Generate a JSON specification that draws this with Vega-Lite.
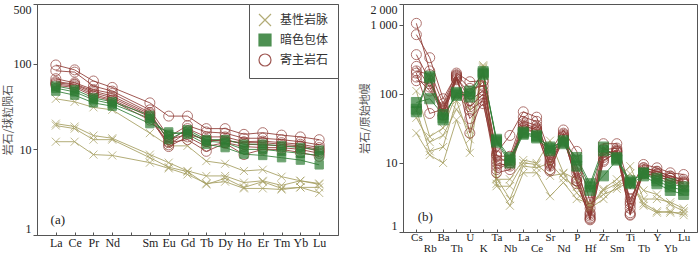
{
"$schema": "https://vega.github.io/schema/vega-lite/v6.json",
"padding": {"left": 1, "top": 2, "right": 2, "bottom": 0},
"background": "white",
"spacing": 19,
"config": {
  "view": {"stroke": "#555", "strokeWidth": 1},
  "font": "Liberation Serif",
  "axis": {"labelFont": "Liberation Serif", "labelFontSize": 12, "labelColor": "#222", "domainColor": "#555", "tickColor": "#555", "titleFont": "Noto Sans CJK SC", "titleFontSize": 11, "titleFontWeight": "normal", "titleColor": "#555", "grid": false},
  "legend": {"orient": "top-right", "offset": 0, "strokeColor": "#555", "fillColor": "white", "padding": 9, "labelFont": "Noto Sans CJK SC", "labelFontSize": 12, "labelColor": "#333", "symbolSize": 144, "symbolStrokeWidth": 1.2, "rowPadding": 2, "labelOffset": 8}
},
"resolve": {"scale": {"shape": "independent", "stroke": "independent", "fill": "independent"}, "legend": {"shape": "independent", "stroke": "independent", "fill": "independent"}},
"datasets": {
"ree": [
{"g":"基性岩脉","s":"x1","e":"La","v":39},{"g":"基性岩脉","s":"x1","e":"Ce","v":36},{"g":"基性岩脉","s":"x1","e":"Pr","v":31},{"g":"基性岩脉","s":"x1","e":"Nd","v":29},{"g":"基性岩脉","s":"x1","e":"Sm","v":15.5},{"g":"基性岩脉","s":"x1","e":"Eu","v":11},{"g":"基性岩脉","s":"x1","e":"Gd","v":11},{"g":"基性岩脉","s":"x1","e":"Tb","v":7.3},{"g":"基性岩脉","s":"x1","e":"Dy","v":6.8},{"g":"基性岩脉","s":"x1","e":"Ho","v":5.6},{"g":"基性岩脉","s":"x1","e":"Er","v":5.8},{"g":"基性岩脉","s":"x1","e":"Tm","v":4.8},{"g":"基性岩脉","s":"x1","e":"Yb","v":4.3},{"g":"基性岩脉","s":"x1","e":"Lu","v":3.9},
{"g":"基性岩脉","s":"x2","e":"La","v":20},{"g":"基性岩脉","s":"x2","e":"Ce","v":18.5},{"g":"基性岩脉","s":"x2","e":"Pr","v":14.5},{"g":"基性岩脉","s":"x2","e":"Nd","v":13.5},{"g":"基性岩脉","s":"x2","e":"Sm","v":8.7},{"g":"基性岩脉","s":"x2","e":"Eu","v":7},{"g":"基性岩脉","s":"x2","e":"Gd","v":5.6},{"g":"基性岩脉","s":"x2","e":"Tb","v":4.9},{"g":"基性岩脉","s":"x2","e":"Dy","v":4.9},{"g":"基性岩脉","s":"x2","e":"Ho","v":4.1},{"g":"基性岩脉","s":"x2","e":"Er","v":4.3},{"g":"基性岩脉","s":"x2","e":"Tm","v":3.8},{"g":"基性岩脉","s":"x2","e":"Yb","v":4.3},{"g":"基性岩脉","s":"x2","e":"Lu","v":4.0},
{"g":"基性岩脉","s":"x3","e":"La","v":19},{"g":"基性岩脉","s":"x3","e":"Ce","v":17.5},{"g":"基性岩脉","s":"x3","e":"Pr","v":13},{"g":"基性岩脉","s":"x3","e":"Nd","v":13},{"g":"基性岩脉","s":"x3","e":"Sm","v":8},{"g":"基性岩脉","s":"x3","e":"Eu","v":6.2},{"g":"基性岩脉","s":"x3","e":"Gd","v":5.5},{"g":"基性岩脉","s":"x3","e":"Tb","v":3.9},{"g":"基性岩脉","s":"x3","e":"Dy","v":4.6},{"g":"基性岩脉","s":"x3","e":"Ho","v":3.6},{"g":"基性岩脉","s":"x3","e":"Er","v":4.2},{"g":"基性岩脉","s":"x3","e":"Tm","v":3.5},{"g":"基性岩脉","s":"x3","e":"Yb","v":3.6},{"g":"基性岩脉","s":"x3","e":"Lu","v":3.6},
{"g":"基性岩脉","s":"x4","e":"La","v":12.3},{"g":"基性岩脉","s":"x4","e":"Ce","v":12.3},{"g":"基性岩脉","s":"x4","e":"Pr","v":8.7},{"g":"基性岩脉","s":"x4","e":"Nd","v":8.5},{"g":"基性岩脉","s":"x4","e":"Sm","v":7},{"g":"基性岩脉","s":"x4","e":"Eu","v":6},{"g":"基性岩脉","s":"x4","e":"Gd","v":5.1},{"g":"基性岩脉","s":"x4","e":"Tb","v":4.0},{"g":"基性岩脉","s":"x4","e":"Dy","v":4.2},{"g":"基性岩脉","s":"x4","e":"Ho","v":3.5},{"g":"基性岩脉","s":"x4","e":"Er","v":3.5},{"g":"基性岩脉","s":"x4","e":"Tm","v":3.4},{"g":"基性岩脉","s":"x4","e":"Yb","v":3.6},{"g":"基性岩脉","s":"x4","e":"Lu","v":3.1},
{"g":"寄主岩石","s":"c1","e":"La","v":97},{"g":"寄主岩石","s":"c1","e":"Ce","v":85},{"g":"寄主岩石","s":"c1","e":"Pr","v":63},{"g":"寄主岩石","s":"c1","e":"Nd","v":53},{"g":"寄主岩石","s":"c1","e":"Sm","v":35},{"g":"寄主岩石","s":"c1","e":"Eu","v":24.5},{"g":"寄主岩石","s":"c1","e":"Gd","v":24.5},{"g":"寄主岩石","s":"c1","e":"Tb","v":17.5},{"g":"寄主岩石","s":"c1","e":"Dy","v":17.5},{"g":"寄主岩石","s":"c1","e":"Ho","v":15},{"g":"寄主岩石","s":"c1","e":"Er","v":15.7},{"g":"寄主岩石","s":"c1","e":"Tm","v":14.7},{"g":"寄主岩石","s":"c1","e":"Yb","v":14},{"g":"寄主岩石","s":"c1","e":"Lu","v":13},
{"g":"寄主岩石","s":"c2","e":"La","v":83},{"g":"寄主岩石","s":"c2","e":"Ce","v":80},{"g":"寄主岩石","s":"c2","e":"Pr","v":55},{"g":"寄主岩石","s":"c2","e":"Nd","v":48},{"g":"寄主岩石","s":"c2","e":"Sm","v":29},{"g":"寄主岩石","s":"c2","e":"Eu","v":14},{"g":"寄主岩石","s":"c2","e":"Gd","v":19},{"g":"寄主岩石","s":"c2","e":"Tb","v":16},{"g":"寄主岩石","s":"c2","e":"Dy","v":15.5},{"g":"寄主岩石","s":"c2","e":"Ho","v":13.5},{"g":"寄主岩石","s":"c2","e":"Er","v":13.5},{"g":"寄主岩石","s":"c2","e":"Tm","v":13},{"g":"寄主岩石","s":"c2","e":"Yb","v":12.3},{"g":"寄主岩石","s":"c2","e":"Lu","v":11.3},
{"g":"寄主岩石","s":"c3","e":"La","v":67},{"g":"寄主岩石","s":"c3","e":"Ce","v":60},{"g":"寄主岩石","s":"c3","e":"Pr","v":50},{"g":"寄主岩石","s":"c3","e":"Nd","v":45},{"g":"寄主岩石","s":"c3","e":"Sm","v":27},{"g":"寄主岩石","s":"c3","e":"Eu","v":12.3},{"g":"寄主岩石","s":"c3","e":"Gd","v":17.5},{"g":"寄主岩石","s":"c3","e":"Tb","v":14},{"g":"寄主岩石","s":"c3","e":"Dy","v":14},{"g":"寄主岩石","s":"c3","e":"Ho","v":12.3},{"g":"寄主岩石","s":"c3","e":"Er","v":12.5},{"g":"寄主岩石","s":"c3","e":"Tm","v":12},{"g":"寄主岩石","s":"c3","e":"Yb","v":11.5},{"g":"寄主岩石","s":"c3","e":"Lu","v":10.5},
{"g":"寄主岩石","s":"c4","e":"La","v":60},{"g":"寄主岩石","s":"c4","e":"Ce","v":57},{"g":"寄主岩石","s":"c4","e":"Pr","v":46},{"g":"寄主岩石","s":"c4","e":"Nd","v":40},{"g":"寄主岩石","s":"c4","e":"Sm","v":25},{"g":"寄主岩石","s":"c4","e":"Eu","v":11.3},{"g":"寄主岩石","s":"c4","e":"Gd","v":16},{"g":"寄主岩石","s":"c4","e":"Tb","v":12.5},{"g":"寄主岩石","s":"c4","e":"Dy","v":13},{"g":"寄主岩石","s":"c4","e":"Ho","v":11.5},{"g":"寄主岩石","s":"c4","e":"Er","v":11.3},{"g":"寄主岩石","s":"c4","e":"Tm","v":11},{"g":"寄主岩石","s":"c4","e":"Yb","v":10.8},{"g":"寄主岩石","s":"c4","e":"Lu","v":9.5},
{"g":"寄主岩石","s":"c5","e":"La","v":58},{"g":"寄主岩石","s":"c5","e":"Ce","v":55},{"g":"寄主岩石","s":"c5","e":"Pr","v":44},{"g":"寄主岩石","s":"c5","e":"Nd","v":38},{"g":"寄主岩石","s":"c5","e":"Sm","v":24},{"g":"寄主岩石","s":"c5","e":"Eu","v":10.8},{"g":"寄主岩石","s":"c5","e":"Gd","v":14},{"g":"寄主岩石","s":"c5","e":"Tb","v":10.8},{"g":"寄主岩石","s":"c5","e":"Dy","v":12},{"g":"寄主岩石","s":"c5","e":"Ho","v":10.8},{"g":"寄主岩石","s":"c5","e":"Er","v":10.5},{"g":"寄主岩石","s":"c5","e":"Tm","v":10.5},{"g":"寄主岩石","s":"c5","e":"Yb","v":10},{"g":"寄主岩石","s":"c5","e":"Lu","v":9},
{"g":"寄主岩石","s":"c6","e":"La","v":56},{"g":"寄主岩石","s":"c6","e":"Ce","v":53},{"g":"寄主岩石","s":"c6","e":"Pr","v":42},{"g":"寄主岩石","s":"c6","e":"Nd","v":37},{"g":"寄主岩石","s":"c6","e":"Sm","v":22},{"g":"寄主岩石","s":"c6","e":"Eu","v":12},{"g":"寄主岩石","s":"c6","e":"Gd","v":13},{"g":"寄主岩石","s":"c6","e":"Tb","v":9.5},{"g":"寄主岩石","s":"c6","e":"Dy","v":11.8},{"g":"寄主岩石","s":"c6","e":"Ho","v":8.7},{"g":"寄主岩石","s":"c6","e":"Er","v":10},{"g":"寄主岩石","s":"c6","e":"Tm","v":10},{"g":"寄主岩石","s":"c6","e":"Yb","v":9.2},{"g":"寄主岩石","s":"c6","e":"Lu","v":8.3},
{"g":"寄主岩石","s":"c7","e":"La","v":62},{"g":"寄主岩石","s":"c7","e":"Ce","v":58},{"g":"寄主岩石","s":"c7","e":"Pr","v":48},{"g":"寄主岩石","s":"c7","e":"Nd","v":42},{"g":"寄主岩石","s":"c7","e":"Sm","v":26},{"g":"寄主岩石","s":"c7","e":"Eu","v":13},{"g":"寄主岩石","s":"c7","e":"Gd","v":15},{"g":"寄主岩石","s":"c7","e":"Tb","v":13},{"g":"寄主岩石","s":"c7","e":"Dy","v":12.5},{"g":"寄主岩石","s":"c7","e":"Ho","v":12},{"g":"寄主岩石","s":"c7","e":"Er","v":12},{"g":"寄主岩石","s":"c7","e":"Tm","v":11.5},{"g":"寄主岩石","s":"c7","e":"Yb","v":11},{"g":"寄主岩石","s":"c7","e":"Lu","v":10},
{"g":"暗色包体","s":"g1","e":"La","v":48},{"g":"暗色包体","s":"g1","e":"Ce","v":43},{"g":"暗色包体","s":"g1","e":"Pr","v":35},{"g":"暗色包体","s":"g1","e":"Nd","v":32},{"g":"暗色包体","s":"g1","e":"Sm","v":20},{"g":"暗色包体","s":"g1","e":"Eu","v":16},{"g":"暗色包体","s":"g1","e":"Gd","v":15},{"g":"暗色包体","s":"g1","e":"Tb","v":11.5},{"g":"暗色包体","s":"g1","e":"Dy","v":10.5},{"g":"暗色包体","s":"g1","e":"Ho","v":8.8},{"g":"暗色包体","s":"g1","e":"Er","v":8.5},{"g":"暗色包体","s":"g1","e":"Tm","v":8},{"g":"暗色包体","s":"g1","e":"Yb","v":7.5},{"g":"暗色包体","s":"g1","e":"Lu","v":6.6},
{"g":"暗色包体","s":"g2","e":"La","v":52},{"g":"暗色包体","s":"g2","e":"Ce","v":47},{"g":"暗色包体","s":"g2","e":"Pr","v":38},{"g":"暗色包体","s":"g2","e":"Nd","v":34},{"g":"暗色包体","s":"g2","e":"Sm","v":23},{"g":"暗色包体","s":"g2","e":"Eu","v":15},{"g":"暗色包体","s":"g2","e":"Gd","v":16},{"g":"暗色包体","s":"g2","e":"Tb","v":12.5},{"g":"暗色包体","s":"g2","e":"Dy","v":12},{"g":"暗色包体","s":"g2","e":"Ho","v":10},{"g":"暗色包体","s":"g2","e":"Er","v":10},{"g":"暗色包体","s":"g2","e":"Tm","v":9.5},{"g":"暗色包体","s":"g2","e":"Yb","v":9},{"g":"暗色包体","s":"g2","e":"Lu","v":8.5},
{"g":"暗色包体","s":"g3","e":"La","v":55},{"g":"暗色包体","s":"g3","e":"Ce","v":50},{"g":"暗色包体","s":"g3","e":"Pr","v":40},{"g":"暗色包体","s":"g3","e":"Nd","v":36},{"g":"暗色包体","s":"g3","e":"Sm","v":25},{"g":"暗色包体","s":"g3","e":"Eu","v":13},{"g":"暗色包体","s":"g3","e":"Gd","v":17},{"g":"暗色包体","s":"g3","e":"Tb","v":13},{"g":"暗色包体","s":"g3","e":"Dy","v":13},{"g":"暗色包体","s":"g3","e":"Ho","v":11.5},{"g":"暗色包体","s":"g3","e":"Er","v":11.5},{"g":"暗色包体","s":"g3","e":"Tm","v":11},{"g":"暗色包体","s":"g3","e":"Yb","v":10.5},{"g":"暗色包体","s":"g3","e":"Lu","v":9.8}
],
"spider": [
{"g":"基性岩脉","s":"x1","e":"Cs","v":110},{"g":"基性岩脉","s":"x1","e":"Rb","v":24},{"g":"基性岩脉","s":"x1","e":"Ba","v":32},{"g":"基性岩脉","s":"x1","e":"Th","v":100},{"g":"基性岩脉","s":"x1","e":"U","v":58},{"g":"基性岩脉","s":"x1","e":"K","v":260},{"g":"基性岩脉","s":"x1","e":"Ta","v":5.8},{"g":"基性岩脉","s":"x1","e":"Nb","v":5.8},{"g":"基性岩脉","s":"x1","e":"La","v":11},{"g":"基性岩脉","s":"x1","e":"Ce","v":10},{"g":"基性岩脉","s":"x1","e":"Sr","v":21},{"g":"基性岩脉","s":"x1","e":"Nd","v":7.2},{"g":"基性岩脉","s":"x1","e":"P","v":5.8},{"g":"基性岩脉","s":"x1","e":"Hf","v":2.4},{"g":"基性岩脉","s":"x1","e":"Zr","v":4.2},{"g":"基性岩脉","s":"x1","e":"Sm","v":5.8},{"g":"基性岩脉","s":"x1","e":"Ti","v":9},{"g":"基性岩脉","s":"x1","e":"Tb","v":3.0},{"g":"基性岩脉","s":"x1","e":"Y","v":3.0},{"g":"基性岩脉","s":"x1","e":"Yb","v":2.7},{"g":"基性岩脉","s":"x1","e":"Lu","v":2.2},
{"g":"基性岩脉","s":"x2","e":"Cs","v":58},{"g":"基性岩脉","s":"x2","e":"Rb","v":14.7},{"g":"基性岩脉","s":"x2","e":"Ba","v":17},{"g":"基性岩脉","s":"x2","e":"Th","v":80},{"g":"基性岩脉","s":"x2","e":"U","v":22},{"g":"基性岩脉","s":"x2","e":"K","v":250},{"g":"基性岩脉","s":"x2","e":"Ta","v":4.6},{"g":"基性岩脉","s":"x2","e":"Nb","v":4.6},{"g":"基性岩脉","s":"x2","e":"La","v":10},{"g":"基性岩脉","s":"x2","e":"Ce","v":9.5},{"g":"基性岩脉","s":"x2","e":"Sr","v":6.5},{"g":"基性岩脉","s":"x2","e":"Nd","v":7},{"g":"基性岩脉","s":"x2","e":"P","v":3.7},{"g":"基性岩脉","s":"x2","e":"Hf","v":2.2},{"g":"基性岩脉","s":"x2","e":"Zr","v":3.0},{"g":"基性岩脉","s":"x2","e":"Sm","v":4.6},{"g":"基性岩脉","s":"x2","e":"Ti","v":5.8},{"g":"基性岩脉","s":"x2","e":"Tb","v":2.6},{"g":"基性岩脉","s":"x2","e":"Y","v":2.0},{"g":"基性岩脉","s":"x2","e":"Yb","v":1.9},{"g":"基性岩脉","s":"x2","e":"Lu","v":1.9},
{"g":"基性岩脉","s":"x3","e":"Cs","v":27},{"g":"基性岩脉","s":"x3","e":"Rb","v":13},{"g":"基性岩脉","s":"x3","e":"Ba","v":10},{"g":"基性岩脉","s":"x3","e":"Th","v":42},{"g":"基性岩脉","s":"x3","e":"U","v":14},{"g":"基性岩脉","s":"x3","e":"K","v":240},{"g":"基性岩脉","s":"x3","e":"Ta","v":5},{"g":"基性岩脉","s":"x3","e":"Nb","v":2.4},{"g":"基性岩脉","s":"x3","e":"La","v":7.2},{"g":"基性岩脉","s":"x3","e":"Ce","v":7.2},{"g":"基性岩脉","s":"x3","e":"Sr","v":3.3},{"g":"基性岩脉","s":"x3","e":"Nd","v":5.2},{"g":"基性岩脉","s":"x3","e":"P","v":3.0},{"g":"基性岩脉","s":"x3","e":"Hf","v":2.6},{"g":"基性岩脉","s":"x3","e":"Zr","v":3.5},{"g":"基性岩脉","s":"x3","e":"Sm","v":4.2},{"g":"基性岩脉","s":"x3","e":"Ti","v":5.5},{"g":"基性岩脉","s":"x3","e":"Tb","v":2.4},{"g":"基性岩脉","s":"x3","e":"Y","v":1.9},{"g":"基性岩脉","s":"x3","e":"Yb","v":2.0},{"g":"基性岩脉","s":"x3","e":"Lu","v":1.75},
{"g":"基性岩脉","s":"x4","e":"Cs","v":45},{"g":"基性岩脉","s":"x4","e":"Rb","v":20},{"g":"基性岩脉","s":"x4","e":"Ba","v":25},{"g":"基性岩脉","s":"x4","e":"Th","v":60},{"g":"基性岩脉","s":"x4","e":"U","v":30},{"g":"基性岩脉","s":"x4","e":"K","v":230},{"g":"基性岩脉","s":"x4","e":"Ta","v":6},{"g":"基性岩脉","s":"x4","e":"Nb","v":3.0},{"g":"基性岩脉","s":"x4","e":"La","v":9},{"g":"基性岩脉","s":"x4","e":"Ce","v":8.5},{"g":"基性岩脉","s":"x4","e":"Sr","v":10},{"g":"基性岩脉","s":"x4","e":"Nd","v":6},{"g":"基性岩脉","s":"x4","e":"P","v":4.5},{"g":"基性岩脉","s":"x4","e":"Hf","v":2.3},{"g":"基性岩脉","s":"x4","e":"Zr","v":4.0},{"g":"基性岩脉","s":"x4","e":"Sm","v":5},{"g":"基性岩脉","s":"x4","e":"Ti","v":7},{"g":"基性岩脉","s":"x4","e":"Tb","v":4},{"g":"基性岩脉","s":"x4","e":"Y","v":3.5},{"g":"基性岩脉","s":"x4","e":"Yb","v":2.5},{"g":"基性岩脉","s":"x4","e":"Lu","v":2.0},
{"g":"寄主岩石","s":"c1","e":"Cs","v":1050},{"g":"寄主岩石","s":"c1","e":"Rb","v":215},{"g":"寄主岩石","s":"c1","e":"Ba","v":72},{"g":"寄主岩石","s":"c1","e":"Th","v":200},{"g":"寄主岩石","s":"c1","e":"U","v":150},{"g":"寄主岩石","s":"c1","e":"K","v":155},{"g":"寄主岩石","s":"c1","e":"Ta","v":14},{"g":"寄主岩石","s":"c1","e":"Nb","v":25},{"g":"寄主岩石","s":"c1","e":"La","v":55},{"g":"寄主岩石","s":"c1","e":"Ce","v":46},{"g":"寄主岩石","s":"c1","e":"Sr","v":14},{"g":"寄主岩石","s":"c1","e":"Nd","v":30},{"g":"寄主岩石","s":"c1","e":"P","v":14.7},{"g":"寄主岩石","s":"c1","e":"Hf","v":2.7},{"g":"寄主岩石","s":"c1","e":"Zr","v":19},{"g":"寄主岩石","s":"c1","e":"Sm","v":19},{"g":"寄主岩石","s":"c1","e":"Ti","v":4.2},{"g":"寄主岩石","s":"c1","e":"Tb","v":9.5},{"g":"寄主岩石","s":"c1","e":"Y","v":8.5},{"g":"寄主岩石","s":"c1","e":"Yb","v":7.2},{"g":"寄主岩石","s":"c1","e":"Lu","v":6.8},
{"g":"寄主岩石","s":"c2","e":"Cs","v":720},{"g":"寄主岩石","s":"c2","e":"Rb","v":334},{"g":"寄主岩石","s":"c2","e":"Ba","v":85},{"g":"寄主岩石","s":"c2","e":"Th","v":190},{"g":"寄主岩石","s":"c2","e":"U","v":120},{"g":"寄主岩石","s":"c2","e":"K","v":130},{"g":"寄主岩石","s":"c2","e":"Ta","v":12.5},{"g":"寄主岩石","s":"c2","e":"Nb","v":12.5},{"g":"寄主岩石","s":"c2","e":"La","v":46},{"g":"寄主岩石","s":"c2","e":"Ce","v":40},{"g":"寄主岩石","s":"c2","e":"Sr","v":11},{"g":"寄主岩石","s":"c2","e":"Nd","v":27},{"g":"寄主岩石","s":"c2","e":"P","v":9},{"g":"寄主岩石","s":"c2","e":"Hf","v":1.9},{"g":"寄主岩石","s":"c2","e":"Zr","v":15.5},{"g":"寄主岩石","s":"c2","e":"Sm","v":16.4},{"g":"寄主岩石","s":"c2","e":"Ti","v":2.7},{"g":"寄主岩石","s":"c2","e":"Tb","v":8.5},{"g":"寄主岩石","s":"c2","e":"Y","v":7.6},{"g":"寄主岩石","s":"c2","e":"Yb","v":6.4},{"g":"寄主岩石","s":"c2","e":"Lu","v":5.8},
{"g":"寄主岩石","s":"c3","e":"Cs","v":370},{"g":"寄主岩石","s":"c3","e":"Rb","v":155},{"g":"寄主岩石","s":"c3","e":"Ba","v":58},{"g":"寄主岩石","s":"c3","e":"Th","v":180},{"g":"寄主岩石","s":"c3","e":"U","v":80},{"g":"寄主岩石","s":"c3","e":"K","v":112},{"g":"寄主岩石","s":"c3","e":"Ta","v":9},{"g":"寄主岩石","s":"c3","e":"Nb","v":10},{"g":"寄主岩石","s":"c3","e":"La","v":37},{"g":"寄主岩石","s":"c3","e":"Ce","v":32},{"g":"寄主岩石","s":"c3","e":"Sr","v":9},{"g":"寄主岩石","s":"c3","e":"Nd","v":24},{"g":"寄主岩石","s":"c3","e":"P","v":7.2},{"g":"寄主岩石","s":"c3","e":"Hf","v":1.6},{"g":"寄主岩石","s":"c3","e":"Zr","v":14},{"g":"寄主岩石","s":"c3","e":"Sm","v":14.7},{"g":"寄主岩石","s":"c3","e":"Ti","v":1.9},{"g":"寄主岩石","s":"c3","e":"Tb","v":7.2},{"g":"寄主岩石","s":"c3","e":"Y","v":6.4},{"g":"寄主岩石","s":"c3","e":"Yb","v":5.5},{"g":"寄主岩石","s":"c3","e":"Lu","v":4.6},
{"g":"寄主岩石","s":"c4","e":"Cs","v":250},{"g":"寄主岩石","s":"c4","e":"Rb","v":125},{"g":"寄主岩石","s":"c4","e":"Ba","v":49},{"g":"寄主岩石","s":"c4","e":"Th","v":165},{"g":"寄主岩石","s":"c4","e":"U","v":58},{"g":"寄主岩石","s":"c4","e":"K","v":80},{"g":"寄主岩石","s":"c4","e":"Ta","v":7.2},{"g":"寄主岩石","s":"c4","e":"Nb","v":8},{"g":"寄主岩石","s":"c4","e":"La","v":32},{"g":"寄主岩石","s":"c4","e":"Ce","v":28},{"g":"寄主岩石","s":"c4","e":"Sr","v":7.6},{"g":"寄主岩石","s":"c4","e":"Nd","v":24},{"g":"寄主岩石","s":"c4","e":"P","v":5.5},{"g":"寄主岩石","s":"c4","e":"Hf","v":1.5},{"g":"寄主岩石","s":"c4","e":"Zr","v":11},{"g":"寄主岩石","s":"c4","e":"Sm","v":14},{"g":"寄主岩石","s":"c4","e":"Ti","v":1.75},{"g":"寄主岩石","s":"c4","e":"Tb","v":8},{"g":"寄主岩石","s":"c4","e":"Y","v":7},{"g":"寄主岩石","s":"c4","e":"Yb","v":6},{"g":"寄主岩石","s":"c4","e":"Lu","v":5.2},
{"g":"寄主岩石","s":"c5","e":"Cs","v":200},{"g":"寄主岩石","s":"c5","e":"Rb","v":52},{"g":"寄主岩石","s":"c5","e":"Ba","v":60},{"g":"寄主岩石","s":"c5","e":"Th","v":175},{"g":"寄主岩石","s":"c5","e":"U","v":44},{"g":"寄主岩石","s":"c5","e":"K","v":72},{"g":"寄主岩石","s":"c5","e":"Ta","v":10},{"g":"寄主岩石","s":"c5","e":"Nb","v":9},{"g":"寄主岩石","s":"c5","e":"La","v":35},{"g":"寄主岩石","s":"c5","e":"Ce","v":30},{"g":"寄主岩石","s":"c5","e":"Sr","v":10},{"g":"寄主岩石","s":"c5","e":"Nd","v":25},{"g":"寄主岩石","s":"c5","e":"P","v":5},{"g":"寄主岩石","s":"c5","e":"Hf","v":1.7},{"g":"寄主岩石","s":"c5","e":"Zr","v":12},{"g":"寄主岩石","s":"c5","e":"Sm","v":15},{"g":"寄主岩石","s":"c5","e":"Ti","v":2.2},{"g":"寄主岩石","s":"c5","e":"Tb","v":7.5},{"g":"寄主岩石","s":"c5","e":"Y","v":6.8},{"g":"寄主岩石","s":"c5","e":"Yb","v":6},{"g":"寄主岩石","s":"c5","e":"Lu","v":5},
{"g":"寄主岩石","s":"c6","e":"Cs","v":175},{"g":"寄主岩石","s":"c6","e":"Rb","v":110},{"g":"寄主岩石","s":"c6","e":"Ba","v":65},{"g":"寄主岩石","s":"c6","e":"Th","v":185},{"g":"寄主岩石","s":"c6","e":"U","v":27},{"g":"寄主岩石","s":"c6","e":"K","v":90},{"g":"寄主岩石","s":"c6","e":"Ta","v":11},{"g":"寄主岩石","s":"c6","e":"Nb","v":11},{"g":"寄主岩石","s":"c6","e":"La","v":40},{"g":"寄主岩石","s":"c6","e":"Ce","v":35},{"g":"寄主岩石","s":"c6","e":"Sr","v":12},{"g":"寄主岩石","s":"c6","e":"Nd","v":26},{"g":"寄主岩石","s":"c6","e":"P","v":6},{"g":"寄主岩石","s":"c6","e":"Hf","v":1.8},{"g":"寄主岩石","s":"c6","e":"Zr","v":13},{"g":"寄主岩石","s":"c6","e":"Sm","v":15.5},{"g":"寄主岩石","s":"c6","e":"Ti","v":2.5},{"g":"寄主岩石","s":"c6","e":"Tb","v":8.5},{"g":"寄主岩石","s":"c6","e":"Y","v":7.5},{"g":"寄主岩石","s":"c6","e":"Yb","v":6.5},{"g":"寄主岩石","s":"c6","e":"Lu","v":5.5},
{"g":"寄主岩石","s":"c7","e":"Cs","v":155},{"g":"寄主岩石","s":"c7","e":"Rb","v":140},{"g":"寄主岩石","s":"c7","e":"Ba","v":55},{"g":"寄主岩石","s":"c7","e":"Th","v":170},{"g":"寄主岩石","s":"c7","e":"U","v":100},{"g":"寄主岩石","s":"c7","e":"K","v":150},{"g":"寄主岩石","s":"c7","e":"Ta","v":13},{"g":"寄主岩石","s":"c7","e":"Nb","v":9.5},{"g":"寄主岩石","s":"c7","e":"La","v":30},{"g":"寄主岩石","s":"c7","e":"Ce","v":28},{"g":"寄主岩石","s":"c7","e":"Sr","v":8},{"g":"寄主岩石","s":"c7","e":"Nd","v":22},{"g":"寄主岩石","s":"c7","e":"P","v":8},{"g":"寄主岩石","s":"c7","e":"Hf","v":2.2},{"g":"寄主岩石","s":"c7","e":"Zr","v":16},{"g":"寄主岩石","s":"c7","e":"Sm","v":13},{"g":"寄主岩石","s":"c7","e":"Ti","v":3},{"g":"寄主岩石","s":"c7","e":"Tb","v":7},{"g":"寄主岩石","s":"c7","e":"Y","v":6.5},{"g":"寄主岩石","s":"c7","e":"Yb","v":5.5},{"g":"寄主岩石","s":"c7","e":"Lu","v":5},
{"g":"寄主岩石","s":"c8","e":"Cs","v":215},{"g":"寄主岩石","s":"c8","e":"Rb","v":190},{"g":"寄主岩石","s":"c8","e":"Ba","v":50},{"g":"寄主岩石","s":"c8","e":"Th","v":160},{"g":"寄主岩石","s":"c8","e":"U","v":65},{"g":"寄主岩石","s":"c8","e":"K","v":100},{"g":"寄主岩石","s":"c8","e":"Ta","v":8},{"g":"寄主岩石","s":"c8","e":"Nb","v":10},{"g":"寄主岩石","s":"c8","e":"La","v":33},{"g":"寄主岩石","s":"c8","e":"Ce","v":31},{"g":"寄主岩石","s":"c8","e":"Sr","v":9.5},{"g":"寄主岩石","s":"c8","e":"Nd","v":23},{"g":"寄主岩石","s":"c8","e":"P","v":5.5},{"g":"寄主岩石","s":"c8","e":"Hf","v":1.55},{"g":"寄主岩石","s":"c8","e":"Zr","v":10.5},{"g":"寄主岩石","s":"c8","e":"Sm","v":14.5},{"g":"寄主岩石","s":"c8","e":"Ti","v":1.8},{"g":"寄主岩石","s":"c8","e":"Tb","v":7.8},{"g":"寄主岩石","s":"c8","e":"Y","v":7},{"g":"寄主岩石","s":"c8","e":"Yb","v":6},{"g":"寄主岩石","s":"c8","e":"Lu","v":5.3},
{"g":"暗色包体","s":"g1","e":"Cs","v":60},{"g":"暗色包体","s":"g1","e":"Rb","v":180},{"g":"暗色包体","s":"g1","e":"Ba","v":45},{"g":"暗色包体","s":"g1","e":"Th","v":100},{"g":"暗色包体","s":"g1","e":"U","v":110},{"g":"暗色包体","s":"g1","e":"K","v":200},{"g":"暗色包体","s":"g1","e":"Ta","v":22},{"g":"暗色包体","s":"g1","e":"Nb","v":12},{"g":"暗色包体","s":"g1","e":"La","v":27},{"g":"暗色包体","s":"g1","e":"Ce","v":24},{"g":"暗色包体","s":"g1","e":"Sr","v":17},{"g":"暗色包体","s":"g1","e":"Nd","v":20},{"g":"暗色包体","s":"g1","e":"P","v":12},{"g":"暗色包体","s":"g1","e":"Hf","v":5},{"g":"暗色包体","s":"g1","e":"Zr","v":17},{"g":"暗色包体","s":"g1","e":"Sm","v":12},{"g":"暗色包体","s":"g1","e":"Ti","v":5.5},{"g":"暗色包体","s":"g1","e":"Tb","v":7},{"g":"暗色包体","s":"g1","e":"Y","v":6},{"g":"暗色包体","s":"g1","e":"Yb","v":5},{"g":"暗色包体","s":"g1","e":"Lu","v":4.5},
{"g":"暗色包体","s":"g2","e":"Cs","v":75},{"g":"暗色包体","s":"g2","e":"Rb","v":85},{"g":"暗色包体","s":"g2","e":"Ba","v":50},{"g":"暗色包体","s":"g2","e":"Th","v":95},{"g":"暗色包体","s":"g2","e":"U","v":100},{"g":"暗色包体","s":"g2","e":"K","v":210},{"g":"暗色包体","s":"g2","e":"Ta","v":20},{"g":"暗色包体","s":"g2","e":"Nb","v":10},{"g":"暗色包体","s":"g2","e":"La","v":26},{"g":"暗色包体","s":"g2","e":"Ce","v":23},{"g":"暗色包体","s":"g2","e":"Sr","v":15},{"g":"暗色包体","s":"g2","e":"Nd","v":19},{"g":"暗色包体","s":"g2","e":"P","v":9},{"g":"暗色包体","s":"g2","e":"Hf","v":4},{"g":"暗色包体","s":"g2","e":"Zr","v":6.5},{"g":"暗色包体","s":"g2","e":"Sm","v":11},{"g":"暗色包体","s":"g2","e":"Ti","v":5},{"g":"暗色包体","s":"g2","e":"Tb","v":6.5},{"g":"暗色包体","s":"g2","e":"Y","v":5},{"g":"暗色包体","s":"g2","e":"Yb","v":4},{"g":"暗色包体","s":"g2","e":"Lu","v":3.5},
{"g":"暗色包体","s":"g3","e":"Cs","v":55},{"g":"暗色包体","s":"g3","e":"Rb","v":170},{"g":"暗色包体","s":"g3","e":"Ba","v":42},{"g":"暗色包体","s":"g3","e":"Th","v":105},{"g":"暗色包体","s":"g3","e":"U","v":90},{"g":"暗色包体","s":"g3","e":"K","v":190},{"g":"暗色包体","s":"g3","e":"Ta","v":21},{"g":"暗色包体","s":"g3","e":"Nb","v":11},{"g":"暗色包体","s":"g3","e":"La","v":28},{"g":"暗色包体","s":"g3","e":"Ce","v":25},{"g":"暗色包体","s":"g3","e":"Sr","v":16},{"g":"暗色包体","s":"g3","e":"Nd","v":21},{"g":"暗色包体","s":"g3","e":"P","v":11},{"g":"暗色包体","s":"g3","e":"Hf","v":4.5},{"g":"暗色包体","s":"g3","e":"Zr","v":15},{"g":"暗色包体","s":"g3","e":"Sm","v":11.5},{"g":"暗色包体","s":"g3","e":"Ti","v":5.2},{"g":"暗色包体","s":"g3","e":"Tb","v":7.2},{"g":"暗色包体","s":"g3","e":"Y","v":5.5},{"g":"暗色包体","s":"g3","e":"Yb","v":4.5},{"g":"暗色包体","s":"g3","e":"Lu","v":4}
]
},
"hconcat": [
{
  "width": 301, "height": 231,
  "encoding": {
    "x": {"field": "e", "type": "ordinal", "scale": {"type": "point", "domain": ["La","Ce","Pr","Nd","Pm","Sm","Eu","Gd","Tb","Dy","Ho","Er","Tm","Yb","Lu"], "padding": 1},
          "axis": {"title": null, "labelAngle": 0, "labelExpr": "datum.value == 'Pm' ? '' : datum.value", "tickSize": -3, "labelPadding": 5}},
    "y": {"field": "v", "type": "quantitative", "scale": {"type": "log", "domain": [1, 500], "nice": false},
          "axis": {"title": "岩石/球粒陨石", "values": [1, 10, 100, 500], "format": "d", "tickSize": 4, "labelPadding": 2, "titlePadding": 0, "labelFlush": true}}
  },
  "layer": [
    {
      "data": {"name": "ree"},
      "mark": {"type": "line", "strokeWidth": 1, "opacity": 0.85},
      "encoding": {
        "detail": {"field": "s"},
        "stroke": {"field": "g", "type": "nominal", "scale": {"domain": ["基性岩脉","暗色包体","寄主岩石"], "range": ["#a59e5f", "#2f7d34", "#8e3a34"]}, "legend": {"title": null}},
        "order": {"value": null}
      }
    },
    {
      "data": {"name": "ree"},
      "transform": [{"filter": "datum.g == '基性岩脉'"}],
      "mark": {"type": "point", "strokeWidth": 1, "size": 64},
      "encoding": {
        "shape": {"field": "g", "type": "nominal", "scale": {"domain": ["基性岩脉","暗色包体","寄主岩石"], "range": ["M-1,-1L1,1M-1,1L1,-1", "square", "circle"]}, "legend": {"title": null}},
        "stroke": {"field": "g", "type": "nominal", "legend": {"title": null}},
        "fill": {"field": "g", "type": "nominal", "scale": {"domain": ["基性岩脉","暗色包体","寄主岩石"], "range": ["transparent", "#2f7d34", "transparent"]}, "legend": {"title": null}}
      }
    },
    {
      "data": {"name": "ree"},
      "transform": [{"filter": "datum.g == '寄主岩石'"}],
      "mark": {"type": "point", "strokeWidth": 1, "size": 100},
      "encoding": {
        "shape": {"field": "g", "type": "nominal", "legend": {"title": null}},
        "stroke": {"field": "g", "type": "nominal", "legend": {"title": null}},
        "fill": {"field": "g", "type": "nominal", "legend": {"title": null}}
      }
    },
    {
      "data": {"name": "ree"},
      "transform": [{"filter": "datum.g == '暗色包体'"}],
      "mark": {"type": "point", "strokeWidth": 1, "size": 70},
      "encoding": {
        "shape": {"field": "g", "type": "nominal", "legend": {"title": null}},
        "stroke": {"field": "g", "type": "nominal", "legend": {"title": null}},
        "fill": {"field": "g", "type": "nominal", "legend": {"title": null}}
      }
    },
    {
      "data": {"values": [{"e": "La", "v": 1.5, "t": "(a)"}]},
      "mark": {"type": "text", "fontSize": 13, "font": "Liberation Serif", "dx": 2, "color": "#222"},
      "encoding": {"text": {"field": "t"}}
    }
  ]
},
{
  "width": 294, "height": 228,
  "encoding": {
    "x": {"field": "e", "type": "ordinal", "scale": {"type": "point", "domain": ["Cs","Rb","Ba","Th","U","K","Ta","Nb","La","Ce","Sr","Nd","P","Hf","Zr","Sm","Ti","Tb","Y","Yb","Lu"], "padding": 1},
          "axis": {"title": null, "labelAngle": 0, "labelFontSize": 11, "labelExpr": "indexof(['Rb','Th','K','Nb','Ce','Nd','Hf','Sm','Tb','Yb'], datum.value) >= 0 ? ['', datum.value] : datum.value", "labelLineHeight": 11.5, "tickSize": -3, "labelPadding": 2}},
    "y": {"field": "v", "type": "quantitative", "scale": {"type": "log", "domain": [1, 2000], "nice": false},
          "axis": {"title": "岩石/原始地幔", "values": [1, 10, 100, 1000, 2000], "labelExpr": "datum.value >= 1000 ? format(datum.value / 1000, 'd') + ' 000' : format(datum.value, 'd')", "tickSize": 4, "labelPadding": 2, "titlePadding": 0, "labelFlush": true}}
  },
  "layer": [
    {
      "data": {"name": "spider"},
      "mark": {"type": "line", "strokeWidth": 1, "opacity": 0.85},
      "encoding": {
        "detail": {"field": "s"},
        "stroke": {"field": "g", "type": "nominal", "scale": {"domain": ["基性岩脉","暗色包体","寄主岩石"], "range": ["#a59e5f", "#2f7d34", "#8e3a34"]}, "legend": null},
        "order": {"value": null}
      }
    },
    {
      "data": {"name": "spider"},
      "transform": [{"filter": "datum.g == '基性岩脉'"}],
      "mark": {"type": "point", "strokeWidth": 1, "size": 64},
      "encoding": {
        "shape": {"field": "g", "type": "nominal", "scale": {"domain": ["基性岩脉","暗色包体","寄主岩石"], "range": ["M-1,-1L1,1M-1,1L1,-1", "square", "circle"]}, "legend": null},
        "stroke": {"field": "g", "type": "nominal", "legend": null},
        "fill": {"field": "g", "type": "nominal", "scale": {"domain": ["基性岩脉","暗色包体","寄主岩石"], "range": ["transparent", "#2f7d34", "transparent"]}, "legend": null}
      }
    },
    {
      "data": {"name": "spider"},
      "transform": [{"filter": "datum.g == '寄主岩石'"}],
      "mark": {"type": "point", "strokeWidth": 1, "size": 100},
      "encoding": {
        "shape": {"field": "g", "type": "nominal", "legend": null},
        "stroke": {"field": "g", "type": "nominal", "legend": null},
        "fill": {"field": "g", "type": "nominal", "legend": null}
      }
    },
    {
      "data": {"name": "spider"},
      "transform": [{"filter": "datum.g == '暗色包体'"}],
      "mark": {"type": "point", "strokeWidth": 1, "size": 100},
      "encoding": {
        "shape": {"field": "g", "type": "nominal", "legend": null},
        "stroke": {"field": "g", "type": "nominal", "legend": null},
        "fill": {"field": "g", "type": "nominal", "legend": null}
      }
    },
    {
      "data": {"values": [{"e": "Cs", "v": 1.67, "t": "(b)"}]},
      "mark": {"type": "text", "fontSize": 13, "font": "Liberation Serif", "dx": 9, "color": "#222"},
      "encoding": {"text": {"field": "t"}}
    }
  ]
}
]
}
